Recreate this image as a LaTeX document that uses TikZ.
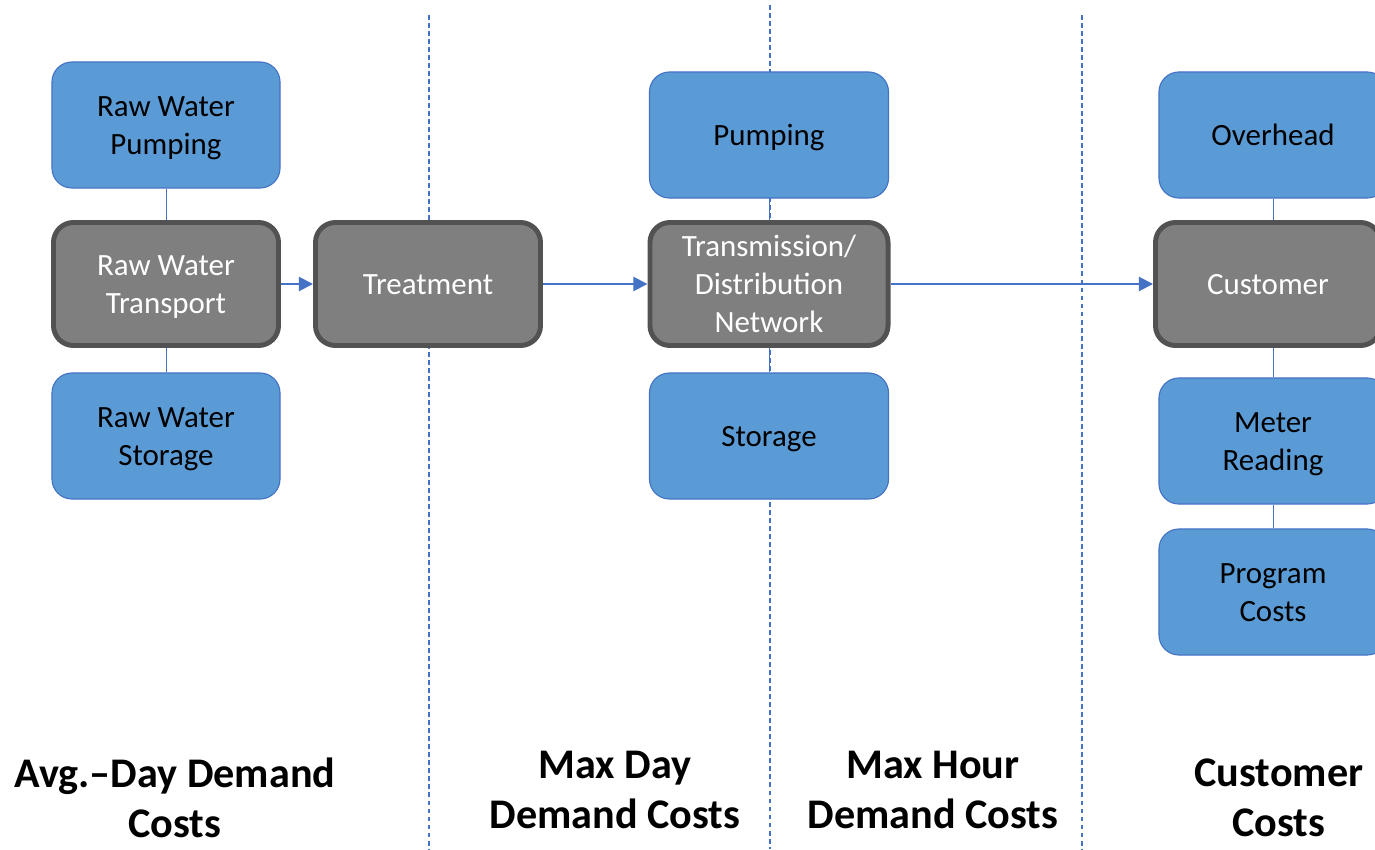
\documentclass[tikz,border=0pt]{standalone}
\usepackage{fontspec}
\setmainfont{Carlito}
\usetikzlibrary{arrows.meta}
\definecolor{boxblue}{HTML}{5B9BD5}
\definecolor{lineblue}{HTML}{4472C4}
\definecolor{boxgrey}{HTML}{7F7F7F}
\definecolor{rimgrey}{HTML}{525252}
\newcommand{\capline}{\rule{0pt}{21pt}}
\begin{document}
\begin{tikzpicture}[x=0.025cm,y=-0.025cm,
  every node/.style={align=center,font=\fontsize{22}{27}\selectfont},
  boxtext/.style={execute at end node={\rule[-5.5pt]{0pt}{5.5pt}}},
  bluebox/.style={boxtext,rectangle,rounded corners=0.5cm,fill=boxblue,draw=lineblue,line width=0.8pt,minimum width=5.7cm,minimum height=3.15cm},
  greybox/.style={boxtext,rectangle,rounded corners=0.5cm,fill=boxgrey,draw=rimgrey,line width=3.5pt,text=white,minimum width=5.625cm,minimum height=3.075cm},
  costlabel/.style={font=\fontsize{30}{35.5}\selectfont\bfseries},
  flow/.style={draw=lineblue,line width=1.4pt,-{Triangle[length=10pt,width=10pt]}},
  link/.style={draw=lineblue,line width=0.7pt},
  divider/.style={draw=lineblue,line width=1pt,dash pattern=on 3.5pt off 2.2pt}
  ]
    \useasboundingbox (0,0) rectangle (1375,849);

    % column dividers
    \coordinate (d1top) at (429,15);   \coordinate (d1bot) at (429,849);
    \coordinate (d2top) at (770,5);    \coordinate (d2bot) at (770,849);
    \coordinate (d3top) at (1082,15);  \coordinate (d3bot) at (1082,849);
    \draw[divider] (d1top) -- (d1bot);
    \draw[divider] (d2top) -- (d2bot);
    \draw[divider] (d3top) -- (d3bot);

    % avg day
    \node[bluebox] (rwpump) at (166,125) {\capline Raw Water\\Pumping};
    \node[greybox] (rwtrans) at (166,284) {\capline Raw Water\\Transport};
    \node[bluebox] (rwstore) at (166,436) {\capline Raw Water\\Storage};

    % max day
    \node[greybox] (treat) at (428,284) {\capline Treatment};

    % max hour
    \node[bluebox,minimum width=5.975cm] (pump) at (769,135) {\capline Pumping};
    \node[greybox,minimum width=5.95cm] (network) at (769,284) {\capline Transmission/\\Distribution\\Network};
    \node[bluebox,minimum width=5.975cm] (store) at (769,436) {\capline Storage};

    % customer
    \node[bluebox] (overhead) at (1273,135) {\capline Overhead};
    \node[greybox] (customer) at (1268,284) {\capline Customer};
    \node[bluebox] (meter) at (1273,441) {\capline Meter\\Reading};
    \node[bluebox] (program) at (1273,592) {\capline Program\\Costs};

    \draw[link] (rwpump) -- (rwtrans);
    \draw[link] (rwtrans) -- (rwstore);
    \draw[link] (pump) -- (network);
    \draw[link] (network) -- (store);
    \draw[link] (overhead.south) -- (overhead.south |- customer.north);
    \draw[link] (meter.north |- customer.south) -- (meter.north);
    \draw[link] (meter) -- (program);

    \draw[flow] (rwtrans) -- (treat);
    \draw[flow] (treat) -- (network);
    \draw[flow] (network) -- (customer);

    % cost labels
    \node[costlabel] (avglbl) at (175,798) {Avg.–Day Demand\\Costs};
    \node[costlabel] (daylbl) at (615,790) {Max Day\\Demand Costs};
    \node[costlabel] (hourlbl) at (933,790) {Max Hour\\Demand Costs};
    \node[costlabel] (custlbl) at (1279,798) {Customer\\Costs};
\end{tikzpicture}
\end{document}
